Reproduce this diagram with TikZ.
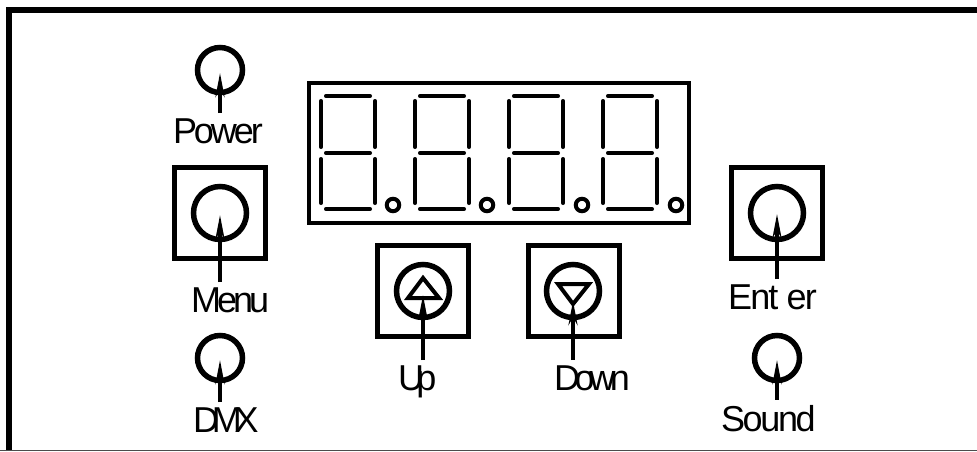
\documentclass[tikz,border=0pt]{standalone}
\usepackage{fontspec}
\setmainfont{Liberation Sans}
\usetikzlibrary{arrows.meta}
\newcommand{\tight}[1]{\addfontfeature{LetterSpace=#1}}
\tikzset{
	panel/.style={line width=6pt},
	window/.style={draw,line width=4.5pt,rectangle,inner sep=0pt},
	knob/.style={draw,circle,line width=5.5pt,inner sep=0pt,minimum size=53pt},
	led/.style={draw,circle,line width=5.5pt,inner sep=0pt,minimum size=45pt},
	dot/.style={draw,circle,line width=4pt,inner sep=0pt,minimum size=12.5pt},
	seg/.style={line width=3.5pt,line cap=round,shorten <=1.75pt,shorten >=1.75pt},
	caption/.style={inner sep=0pt,outer sep=5pt,anchor=base west,font=\fontsize{36}{36}\selectfont},
	lead/.style={line width=3.5pt,-{Stealth[length=24pt,width=9pt]}}
}
\begin{document}
\begin{tikzpicture}[x=1pt,y=-1pt]
		\useasboundingbox (0,0) rectangle (977,451);
		% outer frame, open at the right and the bottom
		\draw[panel] (9,451) -- (9,10) -- (977,10);
		\draw[line width=1pt,black!70] (0,450.5) -- (977,450.5);

		% display
		\node[window,minimum width=380pt,minimum height=140pt] (display) at (499,153) {};
		\foreach \d/\dx/\dotx in {first/0/393, second/94/487, third/188/582, fourth/282/676} {
			\begin{scope}[xshift=\dx pt]
				\draw[seg] (324,96) -- (372,96);
				\draw[seg] (324,153) -- (372,153);
				\draw[seg] (324,209) -- (372,209);
				\draw[seg] (321,99) -- (321,149);
				\draw[seg] (375,99) -- (375,149);
				\draw[seg] (321,157) -- (321,205);
				\draw[seg] (375,157) -- (375,205);
			\end{scope}
			\node[dot] (\d) at (\dotx,205) {};
		}

		% leds
		\node[led] (power) at (220,70) {};
		\node[led] (dmx) at (220,358) {};
		\node[led] (sound) at (777,358) {};

		% buttons
		\foreach \b/\bx/\by in {menubox/220/213, upbox/423/291, downbox/574/291, enterbox/777/213}
			\node[window,minimum size=91pt] (\b) at (\bx,\by) {};
		\node[knob] (menu) at (220,213) {};
		\node[knob] (up) at (423,291) {};
		\node[knob] (down) at (573,291) {};
		\node[knob] (enter) at (777,213) {};

		% triangles on up and down
		\draw[line width=4pt,line join=miter] (423,278) -- (408,298) -- (439,298) -- cycle;
		\draw[line width=4pt,line join=miter] (573,304) -- (558,284) -- (589,284) -- cycle;

		% captions
		\node[caption] (powertext) at (168,143) {\tight{-8.5}Power};
		\node[caption] (menutext) at (186,312) {\tight{-11}Menu};
		\node[caption] (dmxtext) at (188,432) {\tight{-20}DMX};
		\node[caption] (uptext) at (393,390) {\tight{-21}Up};
		\node[caption] (downtext) at (549,390) {\tight{-15}Down};
		\node[caption] (entertext) at (723,309) {\tight{-5}Ent er};
		\node[caption] (soundtext) at (716,431) {\tight{-6.5}Sound};

		% leads
		\draw[lead] (powertext.north -| power) -- ([yshift=-3pt]power.center);
		\draw[lead] (menutext.north -| menu) -- ([yshift=-2pt]menu.center);
		\draw[lead] (dmxtext.north -| dmx) -- ([yshift=-2pt]dmx.center);
		\draw[lead] (uptext.north -| up) -- ([yshift=-4pt]up.center);
		\draw[lead] (downtext.north -| down) -- ([yshift=-10pt]down.center);
		\draw[lead] (entertext.north -| enter) -- ([yshift=-1pt]enter.center);
		\draw[lead] (soundtext.north -| sound) -- ([yshift=-2pt]sound.center);
	\end{tikzpicture}
\end{document}
